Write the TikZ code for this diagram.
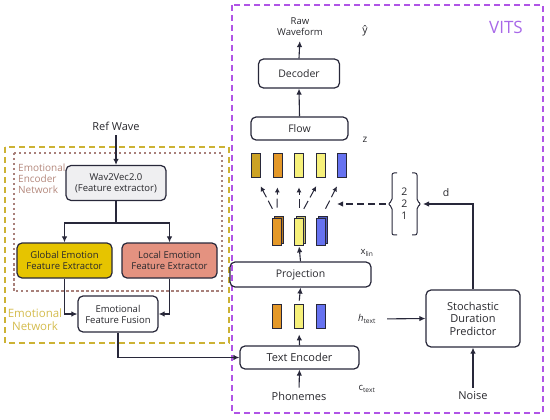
\documentclass[tikz,border=0pt]{standalone}
\usepackage{fontspec}
\setmainfont{Open Sans}
\usetikzlibrary{arrows.meta}

\definecolor{boxline}{RGB}{40,40,58}
\definecolor{txt}{RGB}{40,40,45}
\definecolor{vitsc}{RGB}{176,84,230}
\definecolor{vitstxt}{RGB}{168,104,232}
\definecolor{emonet}{RGB}{204,178,52}
\definecolor{emonettxt}{RGB}{212,188,78}
\definecolor{encnet}{RGB}{168,128,122}
\definecolor{encnettxt}{RGB}{180,136,124}
\definecolor{wavfill}{RGB}{239,239,241}
\definecolor{globfill}{RGB}{230,196,0}
\definecolor{locfill}{RGB}{228,146,128}
\definecolor{barM}{RGB}{204,162,36}
\definecolor{barO}{RGB}{228,152,40}
\definecolor{barY}{RGB}{246,240,122}
\definecolor{barB}{RGB}{102,114,240}

\begin{document}
\begin{tikzpicture}[x=1pt,y=-1pt,
  box/.style={draw=boxline,line width=1.2pt,rounded corners=5pt,align=center,inner sep=2pt,text=txt},
  bar/.style={draw=boxline,line width=0.8pt,minimum width=9pt,minimum height=24pt,inner sep=0pt},
  arr/.style={line width=1.1pt,draw=boxline,-{Latex[length=6pt,width=5.5pt]}},
  lbl/.style={text=txt,align=center,inner sep=1pt}]
  \useasboundingbox (0,0) rectangle (550,420);

  % frames
  \draw[vitsc,line width=1.5pt,dash pattern=on 6pt off 4pt] (232,5) rectangle (543,413);
  \draw[emonet,line width=1.5pt,dash pattern=on 6pt off 4pt] (5,147) rectangle (229,343);
  \draw[encnet,line width=1.2pt,dash pattern=on 2.5pt off 2.5pt] (14,153) rectangle (222,291);
  \node[text=vitstxt,font=\fontsize{17}{20}\selectfont] (vits) at (506,27) {VITS};
  \node[text=encnettxt,align=left,anchor=north west,inner sep=0pt,font=\fontsize{10}{11}\selectfont] (enclab) at (18,164) {Emotional\\Encoder\\Network};
  \node[text=emonettxt,align=center,font=\fontsize{11.5}{13}\selectfont] (emolab) at (35,320) {Emotional\\Network};

  % emotional side
  \node[lbl,font=\fontsize{11}{12}\selectfont] (ref) at (116,126) {Ref Wave};
  \node[box,fill=wavfill,minimum width=100pt,minimum height=35pt,font=\fontsize{9.5}{11}\selectfont] (w2v) at (116,183) {Wav2Vec2.0\\(Feature extractor)};
  \node[box,fill=globfill,minimum width=95pt,minimum height=35pt,font=\fontsize{9.5}{11}\selectfont] (glob) at (64.5,260.5) {Global Emotion\\Feature Extractor};
  \node[box,fill=locfill,minimum width=95pt,minimum height=35pt,font=\fontsize{9.5}{11}\selectfont] (loc) at (169.5,260.5) {Local Emotion\\Feature Extractor};
  \node[box,fill=white,minimum width=80pt,minimum height=36pt,font=\fontsize{9.5}{11}\selectfont] (fus) at (118,314) {Emotional\\Feature Fusion};
  \coordinate (split) at (116,223);

  \draw[arr,shorten <=4pt] (ref.south) -- (w2v.north);
  \draw[line width=1.1pt,boxline] (w2v.south) -- (split);
  \draw[arr] (split) -| (glob.north);
  \draw[arr] (split) -| (loc.north);
  \draw[arr] (glob.south) |- (fus.west);
  \draw[arr] (loc.south) |- (fus.east);

  % VITS side
  \node[lbl,font=\fontsize{9.5}{11}\selectfont] (raw) at (300,27) {Raw\\Waveform};
  \node[lbl,font=\fontsize{10.5}{12}\selectfont] (yhat) at (365,31) {ŷ};
  \node[box,minimum width=81pt,minimum height=29pt,font=\fontsize{10.5}{12}\selectfont] (dec) at (299,73.5) {Decoder};
  \node[box,minimum width=97pt,minimum height=23pt,font=\fontsize{10.5}{12}\selectfont] (flow) at (299.5,128.5) {Flow};
  \node[lbl,font=\fontsize{10}{12}\selectfont] (zlab) at (365,140) {z};

  \foreach \x/\c [count=\i] in {256/barM,277.5/barO,299/barY,321/barY,341.5/barB}
    \node[bar,fill=\c] (t\i) at (\x,165) {};

  \foreach \x/\c [count=\i] in {277/barO,299/barY,321/barB} {
    \node[bar,minimum height=27pt,fill=\c!80!black] at (\x+1.5,230) {};
    \node[bar,minimum height=27pt,fill=\c] (x\i) at (\x,231.5) {};
  }

  \foreach \a/\b in {1/1,1/2,2/3,2/4,3/5}
    \draw[line width=1pt,boxline,dash pattern=on 9pt off 4pt,-{Latex[length=5pt,width=5pt]},shorten <=10pt,shorten >=10pt] (x\a.north) -- (t\b.south);

  \node[box,minimum width=141pt,minimum height=25pt,font=\fontsize{10.5}{12}\selectfont] (proj) at (300.5,274.5) {Projection};
  \node[lbl,font=\fontsize{9.5}{11}\selectfont] (xlab) at (367,253) {x\textsubscript{lin}};

  \foreach \x/\c [count=\i] in {277/barO,299/barY,321/barB}
    \node[bar,fill=\c] (h\i) at (\x,316) {};
  \node[lbl,font=\fontsize{9.5}{11}\selectfont] (hlab) at (367,319) {\textit{h}\textsubscript{text}};

  \node[box,minimum width=119pt,minimum height=23pt,font=\fontsize{11}{12}\selectfont] (te) at (299.5,357.5) {Text Encoder};
  \node[lbl,font=\fontsize{11}{12}\selectfont] (pho) at (299,396) {Phonemes};
  \node[lbl,font=\fontsize{9.5}{11}\selectfont] (clab) at (367,389) {c\textsubscript{text}};

  \node[box,minimum width=94pt,minimum height=57pt,font=\fontsize{11}{12.5}\selectfont] (sdp) at (473,318.5) {Stochastic\\Duration\\Predictor};
  \node[lbl,font=\fontsize{11}{12}\selectfont] (noise) at (473,396) {Noise};

  % durations
  \node[lbl,font=\fontsize{10.5}{12}\selectfont] (dur) at (404.5,204) {2\\2\\1};
  \draw[line width=1pt,boxline,rounded corners=2pt] (397,173) -- (392,173) -- (392,201) -- (388,204) -- (392,207) -- (392,235) -- (397,235);
  \draw[line width=1pt,boxline,rounded corners=2pt] (412,173) -- (417,173) -- (417,201) -- (421,204) -- (417,207) -- (417,235) -- (412,235);
  \coordinate (bl) at (386,204);
  \coordinate (br) at (423,204);
  \coordinate (gath) at (337,204);
  \node[lbl,font=\fontsize{10.5}{12}\selectfont] (dlab) at (446,193) {d};

  \draw[arr] (fus.south) |- (te.west);
  \draw[arr,shorten >=4pt] (dec.north) -- (raw.south);
  \draw[arr] (flow.north) -- (dec.south);
  \draw[arr,shorten >=1pt] (proj.north) -- (x2.south);
  \draw[arr,shorten <=3pt] (h2.north) -- (proj.south);
  \draw[arr,shorten >=6pt] (te.north) -- (h2.south);
  \draw[arr,shorten <=3pt] (pho.north) -- (te.south);
  \draw[arr,shorten <=3pt] (noise.north) -- (sdp.south);
  \draw[arr,shorten <=10pt] (hlab.east) -- (sdp.west);
  \draw[arr] (sdp.north) |- (br);
  \draw[arr,dash pattern=on 7pt off 4pt] (bl) -- (gath);
\end{tikzpicture}
\end{document}
